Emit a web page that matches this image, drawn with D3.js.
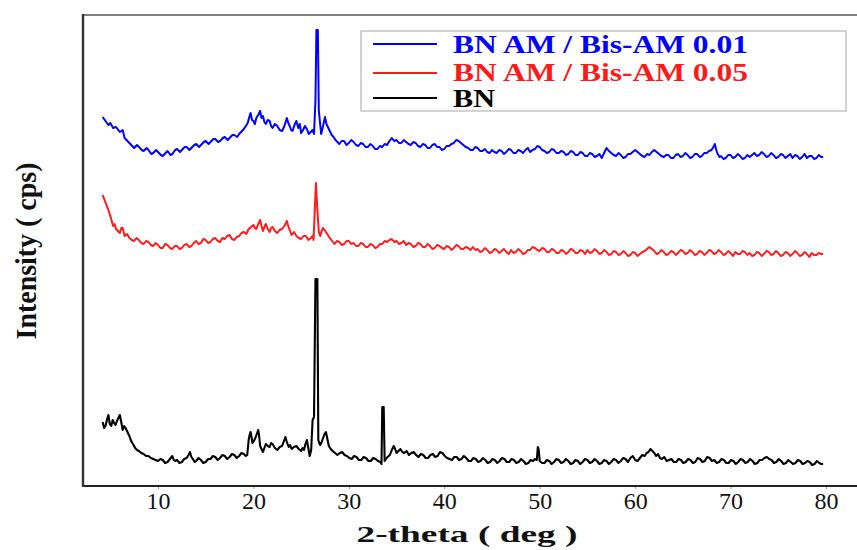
<!DOCTYPE html>
<html>
<head>
<meta charset="utf-8">
<script src="https://cdn.jsdelivr.net/npm/d3@7"></script>
<style>
  html, body { margin: 0; padding: 0; background: #fff; }
  svg { display: block; }
</style>
</head>
<body>
<svg id="chart" width="857" height="550"></svg>
<script>
// ---- data (2-theta in degrees, intensity in arbitrary cps units, curves offset as in the figure) ----
const seriesNames = ["BN AM / Bis-AM 0.01", "BN AM / Bis-AM 0.05", "BN"];
const seriesColors = ["#0000ff", "#ff1a1a", "#000000"];
const xTicks = [10, 20, 30, 40, 50, 60, 70, 80];

const bisAM001 = [
[4.2,369],[4.5,365],[4.8,361],[5.0,363],[5.3,358],[5.6,359],[6.0,354],[6.3,356],[6.5,348],[6.8,345],[7.0,343],[7.3,340],[7.5,338],[7.8,341],[8.0,339],[8.3,336],[8.5,335],[8.8,338],[9.0,336],[9.3,332],[9.5,333],[9.8,336],[10.0,334],[10.3,331],[10.5,330],[10.8,333],[11.0,335],[11.3,331],[11.5,332],[11.8,336],[12.0,337],[12.3,334],[12.5,336],[12.8,339],[13.0,339],[13.3,336],[13.5,338],[13.8,341],[14.0,342],[14.3,339],[14.5,341],[14.8,344],[15.0,345],[15.3,342],[15.5,344],[15.8,347],[16.0,347],[16.3,344],[16.5,345],[16.8,348],[17.0,349],[17.3,346],[17.5,348],[17.8,351],[18.0,351],[18.3,349],[18.5,352],[18.8,355],[19.0,357],[19.2,360],[19.4,363],[19.6,370],[19.7,373],[19.85,366],[20.0,365],[20.15,362],[20.3,368],[20.5,371],[20.7,375],[20.85,368],[21.0,370],[21.15,364],[21.3,362],[21.5,366],[21.7,365],[21.85,360],[22.0,358],[22.25,362],[22.5,360],[22.75,356],[23.0,355],[23.25,360],[23.5,368],[23.65,363],[23.8,360],[23.95,356],[24.1,355],[24.3,361],[24.5,365],[24.7,358],[24.85,362],[25.0,353],[25.2,356],[25.4,360],[25.6,357],[25.8,352],[26.0,354],[26.2,356],[26.35,352],[26.5,386],[26.6,456],[26.75,456],[26.85,376],[26.95,366],[27.1,352],[27.3,360],[27.5,369],[27.65,362],[27.8,359],[28.0,355],[28.2,351],[28.4,349],[28.6,346],[28.8,344],[29.0,342],[29.25,345],[29.5,345],[29.75,341],[30.0,343],[30.25,346],[30.5,344],[30.75,341],[31.0,340],[31.25,343],[31.5,342],[31.75,339],[32.0,339],[32.25,342],[32.5,340],[32.75,337],[33.0,337],[33.25,340],[33.5,339],[33.75,342],[34.0,341],[34.25,345],[34.5,348],[34.75,345],[35.0,346],[35.25,343],[35.5,343],[35.75,346],[36.0,344],[36.25,342],[36.5,341],[36.75,344],[37.0,343],[37.25,340],[37.5,339],[37.75,342],[38.0,341],[38.25,338],[38.5,338],[38.75,341],[39.0,342],[39.25,339],[39.5,339],[39.75,336],[40.0,337],[40.25,340],[40.5,340],[40.75,342],[41.0,343],[41.25,346],[41.5,345],[41.75,343],[42.0,341],[42.25,339],[42.5,338],[42.75,336],[43.0,336],[43.25,339],[43.5,338],[43.75,335],[44.0,335],[44.25,337],[44.5,334],[44.75,333],[45.0,336],[45.25,334],[45.5,333],[45.75,336],[46.0,335],[46.25,332],[46.5,334],[46.75,337],[47.0,336],[47.25,333],[47.5,333],[47.75,336],[48.0,335],[48.25,333],[48.5,336],[48.75,338],[49.0,334],[49.25,336],[49.5,337],[49.75,340],[50.0,339],[50.25,336],[50.5,335],[50.75,333],[51.0,334],[51.25,337],[51.5,336],[51.75,333],[52.0,333],[52.25,335],[52.5,334],[52.75,331],[53.0,332],[53.25,335],[53.5,334],[53.75,331],[54.0,331],[54.25,334],[54.5,333],[54.75,330],[55.0,330],[55.25,333],[55.5,332],[55.75,329],[56.0,330],[56.25,332],[56.5,328],[56.75,333],[57.0,338],[57.25,335],[57.5,333],[57.75,331],[58.0,330],[58.25,333],[58.5,331],[58.75,328],[59.0,329],[59.25,332],[59.5,332],[59.75,334],[60.0,336],[60.25,334],[60.5,332],[60.75,330],[61.0,329],[61.25,332],[61.5,331],[61.75,334],[62.0,336],[62.25,334],[62.5,332],[62.75,330],[63.0,329],[63.25,331],[63.5,331],[63.75,328],[64.0,328],[64.25,331],[64.5,332],[64.75,329],[65.0,330],[65.25,333],[65.5,331],[65.75,328],[66.0,329],[66.25,332],[66.5,332],[66.75,329],[67.0,330],[67.25,333],[67.5,333],[67.75,335],[68.0,336],[68.2,339],[68.35,342],[68.5,336],[68.65,332],[68.85,329],[69.0,330],[69.25,327],[69.5,328],[69.75,331],[70.0,331],[70.25,328],[70.5,329],[70.75,332],[71.0,330],[71.25,327],[71.5,328],[71.75,331],[72.0,329],[72.25,331],[72.5,333],[72.75,330],[73.0,331],[73.25,334],[73.5,332],[73.75,329],[74.0,330],[74.25,333],[74.5,331],[74.75,328],[75.0,329],[75.25,332],[75.5,331],[75.75,328],[76.0,330],[76.25,332],[76.5,328],[76.75,331],[77.0,330],[77.25,327],[77.5,329],[77.75,332],[78.0,328],[78.25,330],[78.5,330],[78.75,327],[79.0,328],[79.25,331],[79.5,329],[79.7,329]
];

const bisAM005 = [
[4.2,291],[4.4,286],[4.6,281],[4.8,276],[5.0,270],[5.15,265],[5.3,260],[5.45,262],[5.6,257],[5.8,255],[6.0,253],[6.15,258],[6.3,258],[6.5,250],[6.75,252],[7.0,248],[7.25,246],[7.5,245],[7.75,248],[8.0,246],[8.25,243],[8.5,242],[8.75,245],[9.0,244],[9.25,241],[9.5,240],[9.75,243],[10.0,241],[10.25,238],[10.5,238],[10.75,242],[11.0,241],[11.25,238],[11.5,237],[11.75,240],[12.0,240],[12.25,237],[12.5,238],[12.75,241],[13.0,242],[13.25,239],[13.5,240],[13.75,243],[14.0,245],[14.25,242],[14.5,243],[14.75,247],[15.0,246],[15.25,243],[15.5,244],[15.75,247],[16.0,248],[16.25,245],[16.5,244],[16.75,248],[17.0,247],[17.25,250],[17.5,251],[17.75,247],[18.0,246],[18.25,249],[18.5,250],[18.75,253],[19.0,254],[19.25,252],[19.5,257],[19.75,259],[20.0,261],[20.15,258],[20.3,257],[20.5,262],[20.7,266],[20.85,260],[21.0,255],[21.15,259],[21.3,262],[21.5,257],[21.7,254],[21.85,258],[22.0,259],[22.25,255],[22.5,253],[22.75,256],[23.0,257],[23.25,260],[23.5,265],[23.65,260],[23.8,256],[24.0,251],[24.25,254],[24.5,250],[24.75,248],[25.0,247],[25.25,250],[25.5,250],[25.75,246],[26.0,248],[26.2,250],[26.3,246],[26.45,281],[26.55,303],[26.7,276],[26.85,254],[27.0,250],[27.15,255],[27.3,258],[27.45,256],[27.6,254],[27.8,251],[28.0,248],[28.25,245],[28.5,242],[28.75,245],[29.0,244],[29.25,241],[29.5,242],[29.75,245],[30.0,245],[30.25,242],[30.5,243],[30.75,240],[31.0,240],[31.25,243],[31.5,242],[31.75,239],[32.0,239],[32.25,242],[32.5,241],[32.75,238],[33.0,239],[33.25,242],[33.5,242],[33.75,245],[34.0,244],[34.25,246],[34.5,247],[34.75,244],[35.0,245],[35.25,242],[35.5,243],[35.75,245],[36.0,241],[36.25,243],[36.5,242],[36.75,239],[37.0,240],[37.25,243],[37.5,242],[37.75,239],[38.0,239],[38.25,242],[38.5,240],[38.75,237],[39.0,238],[39.25,241],[39.5,240],[39.75,238],[40.0,237],[40.25,240],[40.5,239],[40.75,236],[41.0,238],[41.25,241],[41.5,240],[41.75,237],[42.0,237],[42.25,239],[42.5,238],[42.75,236],[43.0,239],[43.25,236],[43.5,237],[43.75,234],[44.0,235],[44.25,238],[44.5,236],[44.75,233],[45.0,234],[45.25,237],[45.5,236],[45.75,233],[46.0,235],[46.25,237],[46.5,234],[46.75,232],[47.0,236],[47.25,233],[47.5,234],[47.75,237],[48.0,235],[48.25,232],[48.5,233],[48.75,236],[49.0,236],[49.25,239],[49.5,238],[49.75,236],[50.0,235],[50.25,238],[50.5,237],[50.75,234],[51.0,234],[51.25,237],[51.5,236],[51.75,233],[52.0,233],[52.25,236],[52.5,235],[52.75,232],[53.0,234],[53.25,237],[53.5,236],[53.75,233],[54.0,233],[54.25,236],[54.5,235],[54.75,232],[55.0,236],[55.25,233],[55.5,234],[55.75,237],[56.0,235],[56.25,232],[56.5,233],[56.75,236],[57.0,234],[57.25,231],[57.5,232],[57.75,235],[58.0,234],[58.25,231],[58.5,232],[58.75,235],[59.0,233],[59.25,230],[59.5,231],[59.75,234],[60.0,233],[60.25,230],[60.5,232],[60.75,234],[61.0,235],[61.25,237],[61.5,239],[61.75,237],[62.0,235],[62.25,232],[62.5,233],[62.75,236],[63.0,234],[63.25,231],[63.5,232],[63.75,235],[64.0,234],[64.25,231],[64.5,233],[64.75,236],[65.0,235],[65.25,232],[65.5,233],[65.75,236],[66.0,234],[66.25,231],[66.5,232],[66.75,235],[67.0,234],[67.25,231],[67.5,233],[67.75,236],[68.0,235],[68.25,232],[68.5,233],[68.75,236],[69.0,234],[69.25,231],[69.5,232],[69.75,235],[70.0,233],[70.25,230],[70.5,234],[70.75,232],[71.0,232],[71.25,235],[71.5,234],[71.75,231],[72.0,233],[72.25,230],[72.5,231],[72.75,234],[73.0,233],[73.25,230],[73.5,232],[73.75,235],[74.0,234],[74.25,231],[74.5,232],[74.75,235],[75.0,233],[75.25,230],[75.5,231],[75.75,234],[76.0,233],[76.25,230],[76.5,232],[76.75,235],[77.0,233],[77.25,230],[77.5,231],[77.75,234],[78.0,232],[78.25,229],[78.5,233],[78.75,231],[79.0,231],[79.25,233],[79.5,232],[79.7,232]
];

const bnPure = [
[4.2,64],[4.35,58],[4.5,60],[4.65,66],[4.8,71],[4.95,62],[5.1,60],[5.25,66],[5.4,63],[5.55,61],[5.7,65],[5.85,68],[6.0,71],[6.15,64],[6.3,56],[6.45,60],[6.6,58],[6.8,54],[7.0,50],[7.15,46],[7.3,43],[7.45,41],[7.6,38],[7.8,36],[8.0,35],[8.25,33],[8.5,32],[8.75,30],[9.0,30],[9.25,28],[9.5,27],[9.75,26],[10.0,25],[10.25,27],[10.5,26],[10.75,23],[11.0,24],[11.25,27],[11.5,30],[11.65,26],[11.8,25],[12.0,26],[12.25,23],[12.5,24],[12.75,27],[13.0,28],[13.2,31],[13.35,34],[13.5,29],[13.65,27],[13.85,24],[14.0,25],[14.25,28],[14.5,26],[14.75,23],[15.0,24],[15.25,27],[15.5,27],[15.75,30],[16.0,29],[16.25,26],[16.5,28],[16.75,31],[17.0,30],[17.25,27],[17.5,29],[17.75,32],[18.0,31],[18.25,28],[18.5,30],[18.75,33],[19.0,32],[19.2,30],[19.35,31],[19.5,46],[19.6,51],[19.7,54],[19.8,49],[19.9,43],[20.05,45],[20.2,48],[20.35,52],[20.5,56],[20.6,50],[20.7,40],[20.85,37],[21.0,34],[21.15,38],[21.3,42],[21.5,40],[21.7,39],[21.85,43],[22.0,42],[22.25,38],[22.5,36],[22.75,39],[23.0,40],[23.2,45],[23.35,49],[23.5,44],[23.7,39],[23.85,41],[24.0,37],[24.25,39],[24.5,40],[24.75,37],[25.0,35],[25.15,38],[25.3,36],[25.45,42],[25.6,46],[25.75,38],[25.9,30],[26.05,36],[26.2,66],[26.35,69],[26.5,207],[26.7,207],[26.8,46],[26.9,43],[27.0,41],[27.15,44],[27.3,48],[27.45,52],[27.6,54],[27.75,47],[27.9,40],[28.1,37],[28.3,35],[28.55,33],[28.8,31],[29.05,33],[29.3,34],[29.55,31],[29.8,30],[30.05,28],[30.3,27],[30.55,30],[30.8,29],[31.05,26],[31.3,26],[31.55,29],[31.8,28],[32.05,25],[32.3,25],[32.55,28],[32.8,27],[33.05,25],[33.3,24],[33.42,22],[33.5,79],[33.65,79],[33.75,25],[33.9,27],[34.05,29],[34.3,31],[34.5,36],[34.7,40],[34.85,37],[35.0,33],[35.2,35],[35.4,37],[35.6,34],[35.8,33],[36.05,35],[36.3,31],[36.55,33],[36.8,34],[37.05,31],[37.3,29],[37.55,32],[37.8,31],[38.05,28],[38.3,28],[38.55,31],[38.8,32],[39.05,29],[39.3,30],[39.55,34],[39.8,33],[40.05,30],[40.3,28],[40.55,27],[40.8,26],[41.05,29],[41.3,29],[41.55,26],[41.8,27],[42.05,30],[42.3,28],[42.55,25],[42.8,25],[43.05,28],[43.3,27],[43.55,24],[43.8,25],[44.05,28],[44.3,26],[44.55,23],[44.8,24],[45.05,27],[45.3,26],[45.55,23],[45.8,25],[46.05,28],[46.3,27],[46.55,24],[46.8,24],[47.05,27],[47.3,26],[47.55,23],[47.8,24],[48.05,27],[48.3,25],[48.55,22],[48.8,23],[49.05,26],[49.3,25],[49.5,27],[49.7,26],[49.8,39],[49.9,36],[50.0,25],[50.25,23],[50.5,23],[50.75,26],[51.0,25],[51.25,22],[51.5,24],[51.75,27],[52.0,26],[52.25,23],[52.5,24],[52.75,27],[53.0,25],[53.25,22],[53.5,23],[53.75,26],[54.0,25],[54.25,22],[54.5,24],[54.75,27],[55.0,26],[55.25,23],[55.5,24],[55.75,27],[56.0,25],[56.25,22],[56.5,23],[56.75,26],[57.0,25],[57.25,22],[57.5,24],[57.75,27],[58.0,26],[58.25,23],[58.5,25],[58.75,28],[59.0,27],[59.25,24],[59.5,28],[59.75,30],[60.0,26],[60.25,25],[60.5,28],[60.75,31],[61.0,30],[61.2,33],[61.4,34],[61.6,37],[61.8,35],[62.0,33],[62.2,30],[62.4,32],[62.6,28],[62.8,27],[63.05,29],[63.3,25],[63.55,26],[63.8,27],[64.05,24],[64.3,24],[64.55,27],[64.8,26],[65.05,23],[65.3,24],[65.55,27],[65.8,26],[66.05,23],[66.3,24],[66.55,28],[66.8,27],[67.05,24],[67.3,25],[67.55,29],[67.8,28],[68.05,25],[68.3,26],[68.55,23],[68.8,24],[69.05,27],[69.3,26],[69.55,23],[69.8,23],[70.05,26],[70.3,25],[70.55,22],[70.8,24],[71.05,27],[71.3,26],[71.55,23],[71.8,24],[72.05,27],[72.3,25],[72.55,22],[72.8,23],[73.05,26],[73.3,26],[73.55,28],[73.8,29],[74.05,27],[74.3,26],[74.55,23],[74.8,24],[75.05,27],[75.3,25],[75.55,22],[75.8,23],[76.05,26],[76.3,24],[76.55,22],[76.8,23],[77.05,26],[77.3,25],[77.55,22],[77.8,23],[78.05,25],[78.3,24],[78.55,21],[78.8,22],[79.05,25],[79.3,23],[79.5,22],[79.7,22]
];

const seriesData = [bisAM001, bisAM005, bnPure];

// ---- drawing ----
const svg = d3.select("#chart");
const plot = { left: 83, right: 857, top: 15, bottom: 486 };

// soft blur to mimic the scanned look of the traces
const defs = svg.append("defs");
defs.append("filter").attr("id", "soft").attr("x", "-5%").attr("y", "-5%").attr("width", "110%").attr("height", "110%")
  .append("feGaussianBlur").attr("stdDeviation", 0.45);

// x: 10 deg -> 158 px, 80 deg -> 826 px
const x = d3.scaleLinear().domain([10, 80]).range([158, 826]);
const y = d3.scaleLinear().domain([0, 471]).range([plot.bottom, plot.top]);

// top frame line
svg.append("line").attr("x1", plot.left).attr("x2", plot.right)
  .attr("y1", plot.top).attr("y2", plot.top)
  .attr("stroke", "#555").attr("stroke-width", 1.6);

// series lines
const line = d3.line().x(d => x(d[0])).y(d => y(d[1]));
const g = svg.append("g").attr("filter", "url(#soft)");
seriesData.forEach((s, i) => {
  g.append("path").datum(s)
    .attr("d", line)
    .attr("fill", "none")
    .attr("stroke", seriesColors[i])
    .attr("stroke-width", i === 2 ? 2.1 : 2.0)
    .attr("stroke-linejoin", "round");
});

// x axis
const xAxis = d3.axisBottom(x).tickValues(xTicks).tickSize(3).tickPadding(4).tickFormat(d3.format("d"));
const ax = svg.append("g").attr("transform", `translate(0,${plot.bottom})`).call(xAxis);
ax.select(".domain").remove();
ax.selectAll(".tick line").attr("stroke", "#999").attr("stroke-width", 1);
ax.selectAll(".tick text")
  .attr("font-family", "'Liberation Serif', 'Times New Roman', serif")
  .attr("font-size", 24).attr("fill", "#111")
  .attr("dy", null).attr("y", 23);

svg.append("line").attr("x1", plot.left).attr("x2", plot.right)
  .attr("y1", plot.bottom).attr("y2", plot.bottom)
  .attr("stroke", "#222").attr("stroke-width", 2.2);
svg.append("line").attr("x1", plot.left).attr("x2", plot.left)
  .attr("y1", plot.top - 1).attr("y2", plot.bottom + 1)
  .attr("stroke", "#333").attr("stroke-width", 2.4);

// axis titles
svg.append("text")
  .attr("x", 467).attr("y", 542)
  .attr("text-anchor", "middle")
  .attr("font-family", "'Liberation Serif', 'Times New Roman', serif")
  .attr("font-weight", "bold").attr("font-size", 24)
  .attr("textLength", 221).attr("lengthAdjust", "spacingAndGlyphs")
  .attr("fill", "#111")
  .text("2-theta ( deg )");

svg.append("text")
  .attr("transform", "translate(36,251) rotate(-90)")
  .attr("text-anchor", "middle")
  .attr("font-family", "'Liberation Serif', 'Times New Roman', serif")
  .attr("font-weight", "bold").attr("font-size", 29)
  .attr("textLength", 177).attr("lengthAdjust", "spacingAndGlyphs")
  .attr("fill", "#111")
  .text("Intensity ( cps)");

// legend
const lg = svg.append("g");
lg.append("rect").attr("x", 361).attr("y", 31).attr("width", 485).attr("height", 80)
  .attr("fill", "#fff").attr("stroke", "#c8c8c8").attr("stroke-width", 1.6);
const legLineY = [44, 73, 98];
const legTextY = [53, 81, 107];
const legLen = [295, 295, 42];
seriesNames.forEach((name, i) => {
  lg.append("line").attr("x1", 373).attr("x2", 437)
    .attr("y1", legLineY[i]).attr("y2", legLineY[i])
    .attr("stroke", seriesColors[i]).attr("stroke-width", 1.8);
  lg.append("text").attr("x", 453).attr("y", legTextY[i])
    .attr("font-family", "'Liberation Serif', 'Times New Roman', serif")
    .attr("font-weight", "bold").attr("font-size", 25)
    .attr("textLength", legLen[i]).attr("lengthAdjust", "spacingAndGlyphs")
    .attr("fill", seriesColors[i])
    .text(name);
});
</script>
</body>
</html>
